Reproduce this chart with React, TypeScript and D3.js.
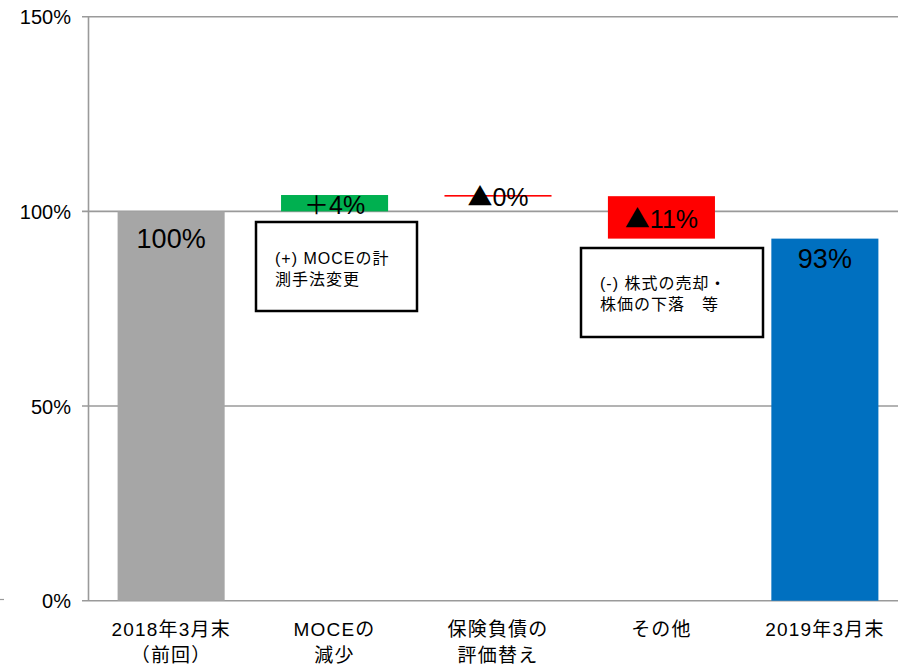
import React from "react";
import * as d3 from "d3";

const categories = ["2018年3月末", "MOCEの減少", "保険負債の評価替え", "その他", "2019年3月末"];
const categoryLines = [["2018年3月末", "（前回）"], ["MOCEの", "減少"], ["保険負債の", "評価替え"], ["その他"], ["2019年3月末"]];
const startValue = 100;
const deltas = [4.2, -0.3, -10.9];
const endValue = 93;
const valueLabels = ["100%", "＋4%", "▲0%", "▲11%", "93%"];
const barColors = ["#a6a6a6", "#00b050", "#ff0000", "#ff0000", "#0070c0"];
const yTicks = [0, 50, 100, 150];
const notes = [
  { lines: ["(+) MOCEの計", "測手法変更"] },
  { lines: ["(-) 株式の売却・", "株価の下落　等"] },
];

const W = 898;
const H = 665;
const FONT = "'Liberation Sans', Arial, 'Noto Sans CJK JP', sans-serif";
const CJK = "'Noto Sans CJK JP', sans-serif";

function renderLabel(s: string) {
  const parts = s.split(/([▲＋])/).filter((p) => p !== "");
  return parts.map((p, i) =>
    p === "▲" || p === "＋" ? (
      <tspan key={i} fontFamily={CJK}>{p}</tspan>
    ) : (
      <tspan key={i}>{p}</tspan>
    )
  );
}

export default function App() {
  const y = d3.scaleLinear().domain([0, 150]).range([600.7, 16.7]);
  const x = d3.scaleBand<string>().domain(categories).range([89, 907]).paddingInner(0.345).paddingOuter(0.175);
  const bw = x.bandwidth();

  const segs: { lo: number; hi: number; kind: string }[] = [];
  segs.push({ lo: 0, hi: startValue, kind: "total" });
  let cur = startValue;
  deltas.forEach((d) => {
    const next = cur + d;
    segs.push({ lo: Math.min(cur, next), hi: Math.max(cur, next), kind: "delta" });
    cur = next;
  });
  segs.push({ lo: 0, hi: endValue, kind: "total" });

  const totalOffsets = [37, 0, 0, 0, 29];

  const noteBoxes = [
    { x0: 256, y0: 222, x1: 417, y1: 311, tx: 275, ty: 264 },
    { x0: 581, y0: 248, x1: 763, y1: 337, tx: 600, ty: 289 },
  ];

  return (
    <svg width={W} height={H} style={{ position: "absolute", left: 0, top: 0, background: "#fff" }} fontFamily={FONT}>
      <rect x={0} y={0} width={W} height={H} fill="#fff" />
      {yTicks.map((t) => (
        <g key={t}>
          <line x1={82} x2={W} y1={y(t)} y2={y(t)} stroke="#9a9a9a" strokeWidth={1.6} />
          <text x={71} y={y(t) + 7.5} textAnchor="end" fontSize={20} fill="#000">{t}%</text>
        </g>
      ))}
      <line x1={88.5} x2={88.5} y1={y(150)} y2={y(0)} stroke="#9a9a9a" strokeWidth={1.6} />
      <line x1={0} x2={4} y1={599.5} y2={599.5} stroke="#9a9a9a" strokeWidth={1.2} />
      {segs.map((s, i) => {
        const x0 = x(categories[i])!;
        const top = y(s.hi);
        const h = Math.max(y(s.lo) - y(s.hi), 1.6);
        return <rect key={i} x={x0} y={top} width={bw} height={h} fill={barColors[i]} />;
      })}
      {segs.map((s, i) => {
        const cx = x(categories[i])! + bw / 2;
        const ty = s.kind === "total" ? y(s.hi) + totalOffsets[i] : (y(s.hi) + y(s.lo)) / 2 + 10.5;
        return (
          <text key={i} x={cx} y={ty} textAnchor="middle" fontSize={s.kind === "total" ? 27 : 25} fill="#000">
            {renderLabel(valueLabels[i])}
          </text>
        );
      })}
      {notes.map((n, i) => {
        const b = noteBoxes[i];
        return (
          <g key={i}>
            <rect x={b.x0} y={b.y0} width={b.x1 - b.x0} height={b.y1 - b.y0} fill="#fff" stroke="#000" strokeWidth={2.5} />
            {n.lines.map((l, j) => (
              <text key={j} x={b.tx} y={b.ty + j * 21} fontSize={16} letterSpacing={1} fill="#000">{l}</text>
            ))}
          </g>
        );
      })}
      {categories.map((c, i) => {
        const cx = x(c)! + bw / 2;
        return categoryLines[i].map((l, j) => (
          <text key={c + j} x={cx} y={636 + j * 26} textAnchor="middle" fontSize={19} letterSpacing={1.2} fill="#000">{l}</text>
        ));
      })}
    </svg>
  );
}
